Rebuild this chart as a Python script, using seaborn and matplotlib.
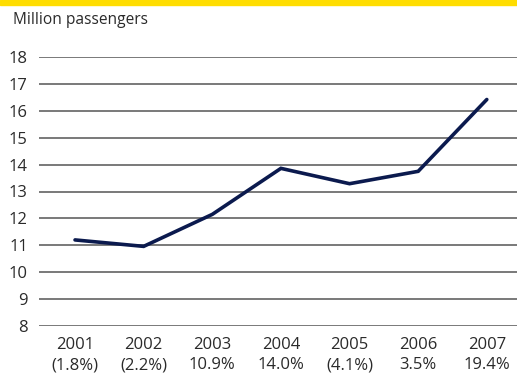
import matplotlib
matplotlib.use("Agg")
import matplotlib.pyplot as plt
import seaborn as sns
import pandas as pd

years = ["2001", "2002", "2003", "2004", "2005", "2006", "2007"]
growth = ["(1.8%)", "(2.2%)", "10.9%", "14.0%", "(4.1%)", "3.5%", "19.4%"]
passengers = [11.2, 10.96, 12.15, 13.86, 13.29, 13.75, 16.42]
y_ticks = list(range(8, 19))

sns.set_theme(style="white")
plt.rcParams["font.family"] = ["Open Sans", "DejaVu Sans"]

df = pd.DataFrame({"pos": range(len(years)), "passengers": passengers})

fig = plt.figure(figsize=(5.17, 3.74), dpi=100)
ax = fig.add_axes([39 / 517, (374 - 326) / 374, 1 - 39 / 517, (326 - 57) / 374])

for v in y_ticks:
    ax.axhline(v, color="#555555", lw=1.1, zorder=1)

sns.lineplot(data=df, x="pos", y="passengers", ax=ax, color="#0b1a4e",
             lw=2.6, zorder=3, solid_capstyle="round", solid_joinstyle="miter")

ax.set_xlim(-0.525, 6.44)
ax.set_ylim(8, 18)
ax.set_yticks(y_ticks)
ax.set_yticklabels([str(v) for v in y_ticks], fontsize=12, color="#2a2a2a")
ax.set_xticks(range(len(years)))
ax.set_xticklabels([f"{y}\n{g}" for y, g in zip(years, growth)],
                   fontsize=12, color="#2a2a2a", linespacing=1.35)
ax.tick_params(axis="x", length=0, pad=8)
ax.tick_params(axis="y", length=0, pad=8)
ax.set_xlabel("")
ax.set_ylabel("")
for s in ax.spines.values():
    s.set_visible(False)

fig.text(13 / 517, 1 - 20 / 374, "Million passengers", fontsize=11.2,
         color="#2a2a2a", va="center", ha="left")

# yellow band across the top
fig.patches.append(plt.Rectangle((0, 1 - 4.5 / 374), 1, 4.5 / 374,
                                 transform=fig.transFigure, color="#ffdd00",
                                 zorder=5))

fig.savefig("out.png", dpi=100)
